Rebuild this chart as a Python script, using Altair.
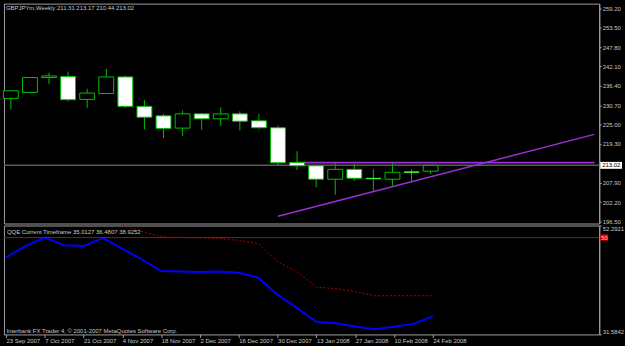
import json
import altair as alt
import pandas as pd

# ---------------- data ----------------
dates = ["23 Sep 2007", "30 Sep 2007", "7 Oct 2007", "14 Oct 2007", "21 Oct 2007",
         "28 Oct 2007", "4 Nov 2007", "11 Nov 2007", "18 Nov 2007", "25 Nov 2007",
         "2 Dec 2007", "9 Dec 2007", "16 Dec 2007", "23 Dec 2007", "30 Dec 2007",
         "6 Jan 2008", "13 Jan 2008", "20 Jan 2008", "27 Jan 2008", "3 Feb 2008",
         "10 Feb 2008", "17 Feb 2008", "24 Feb 2008"]
opens  = [232.70, 234.45, 238.85, 239.11, 232.41, 234.15, 239.02, 230.37, 227.58, 223.97,
          228.16, 226.70, 228.16, 226.12, 224.08, 213.89, 212.90, 208.94, 211.85, 209.10,
          208.94, 210.95, 211.31]
highs  = [235.00, 238.90, 240.27, 240.57, 235.53, 241.35, 239.40, 232.24, 228.16, 229.12,
          228.40, 230.08, 228.90, 228.16, 224.75, 217.18, 213.10, 213.60, 213.40, 211.85,
          213.60, 211.85, 213.17]
lows   = [229.41, 234.30, 236.90, 231.83, 229.91, 233.98, 229.91, 223.59, 221.05, 221.64,
          223.50, 224.55, 223.30, 223.79, 213.00, 211.65, 206.61, 204.37, 208.53, 205.53,
          207.07, 208.44, 210.44]
closes = [234.94, 238.82, 239.30, 232.32, 234.27, 239.02, 230.37, 227.17, 223.88, 228.16,
          226.70, 228.16, 226.00, 224.08, 213.77, 212.90, 208.94, 211.85, 209.23, 209.20,
          210.98, 211.10, 213.02]

qqe_blue = [46.21, 48.39, 49.98, 48.53, 48.39, 49.90, 47.90, 45.83, 43.63, 43.57,
            43.44, 43.57, 43.31, 42.37, 39.11, 36.61, 33.97, 33.71, 33.08, 32.57,
            33.03, 33.59, 35.0127]
qqe_red_start = 6
qqe_red = [52.29, 51.16, 50.13, 50.03, 49.94, 49.84, 49.47, 48.81, 45.42, 43.50,
           40.56, 40.30, 39.73, 38.92, 38.93, 38.93, 38.9252]
qqe_level = 50

trend_x = [14.0, 30.577]
trend_y = [198.05, 222.13]
hline_x = [15.0, 30.577]
hline_y = 213.83

price_ticks = [259.20, 253.50, 247.80, 242.10, 236.40, 230.70, 225.00, 219.30,
               207.90, 202.20, 196.50]
qqe_ticks = [52.2921, 31.5842]
date_ticks = list(range(0, 23, 2))

title_main = "GBPJPYm,Weekly  211.31 213.17 210.44 213.02"
title_qqe = "QQE Current Timeframe 35.0127 36.4807 38.9252"
copyright_txt = "Interbank FX Trader 4, \u00a9 2001-2007 MetaQuotes Software Corp."

# ---------------- styling ----------------
FONT = "Liberation Sans"
FS = 6
TXT = "#c8c8c8"
GREEN = "#00c000"
W = 601
H_MAIN = 222
H_LOW = 110
XDOM = [-0.102, 30.577]

df = pd.DataFrame({"i": list(range(len(dates))), "open": opens, "high": highs,
                   "low": lows, "close": closes, "blue": qqe_blue})
df_red = pd.DataFrame({"i": list(range(qqe_red_start, qqe_red_start + len(qqe_red))),
                       "red": qqe_red})

xs = alt.Scale(domain=XDOM, nice=False, zero=False)
ys_main = alt.Scale(domain=[195.92, 260.57], nice=False, zero=False)
ys_low = alt.Scale(domain=[qqe_ticks[1], qqe_ticks[0]], nice=False, zero=False)

axis_common = dict(labelFont=FONT, labelFontSize=FS, labelColor=TXT, tickColor="#a0a0a0",
                   domainColor="#a0a0a0", grid=False, title=None, labelOverlap=False)

ax_price = alt.Axis(orient="right", values=price_ticks, format=".2f", tickSize=2,
                    labelPadding=1, labelBound=False, **axis_common)
ax_qqe = alt.Axis(orient="right", values=qqe_ticks, format=".4f", tickSize=2,
                  labelPadding=1, labelFlush=True, **axis_common)
ax_date = alt.Axis(values=date_ticks,
                   labelExpr=f"{json.dumps(dates)}[round(datum.value)]",
                   labelAlign="left", labelBaseline="top", tickSize=3, labelPadding=0,
                   labelFlush=False, labelBound=False, domain=False, **axis_common)


def Y(field, axis):
    return alt.Y(field, title=None, axis=axis)


# ---------------- main panel ----------------
xm = alt.X("i:Q", scale=xs, axis=None)
base = alt.Chart(df).encode(x=xm)

wicks = base.mark_rule(color=GREEN, strokeWidth=1).encode(
    y=alt.Y("low:Q", scale=ys_main, title=None, axis=ax_price), y2="high:Q")
bodies = base.mark_bar(size=15, strokeWidth=1).encode(
    y=Y("open:Q", ax_price),
    y2="close:Q",
    fill=alt.condition("datum.close >= datum.open", alt.value("#000000"), alt.value("#ffffff")),
    stroke=alt.condition("abs(datum.close - datum.open) < 0.3", alt.value("#40ff40"), alt.value(GREEN)),
)

last_df = pd.DataFrame({"p": [closes[-1]]})
bid_line = alt.Chart(last_df).mark_rule(color="#5a5a5a", strokeWidth=1.5).encode(
    y=Y("p:Q", ax_price))

hl_df = pd.DataFrame({"x": [hline_x[0]], "x2": [hline_x[1]], "y": [hline_y]})
purple_h = alt.Chart(hl_df).mark_rule(color="#9b30d9", strokeWidth=1.6).encode(
    x=alt.X("x:Q", scale=xs, axis=None), x2="x2:Q", y=Y("y:Q", ax_price))

tr_df = pd.DataFrame({"x": trend_x, "y": trend_y})
trend = alt.Chart(tr_df).mark_line(color="#9b30d9", strokeWidth=1.4).encode(
    x=alt.X("x:Q", scale=xs, axis=None), y=Y("y:Q", ax_price))

bid_box = alt.Chart(last_df).mark_rect(color="#ffffff", yOffset=-3.5, y2Offset=3.5).encode(
    x=alt.value(W + 1), x2=alt.value(W + 23), y=Y("p:Q", ax_price), y2="p:Q")
bid_txt = alt.Chart(last_df).mark_text(align="left", baseline="middle", font=FONT,
                                       fontSize=FS, color="#000000").encode(
    x=alt.value(W + 3), y=Y("p:Q", ax_price), text=alt.Text("p:Q", format=".2f"))

main_title = alt.Chart(pd.DataFrame({"t": [title_main]})).mark_text(
    align="left", baseline="middle", font=FONT, fontSize=FS, color=TXT).encode(
    x=alt.value(2), y=alt.value(4.5), text="t:N")

main = alt.layer(wicks, bid_line, purple_h, trend, bodies, bid_box, bid_txt, main_title).properties(
    width=W, height=H_MAIN)

# ---------------- QQE panel ----------------
xl = lambda f: alt.X(f, scale=xs, title=None, axis=ax_date)

lvl_df = pd.DataFrame({"v": [qqe_level]})
level = alt.Chart(lvl_df).mark_rule(color="#c00000", strokeWidth=1).encode(
    y=alt.Y("v:Q", scale=ys_low, title=None, axis=ax_qqe))

red_line = alt.Chart(df_red).mark_line(color="#b00000", strokeWidth=1, strokeDash=[2, 2]).encode(
    x=xl("i:Q"), y=Y("red:Q", ax_qqe))

blue_line = alt.Chart(df).mark_line(color="#0000ff", strokeWidth=2).encode(
    x=xl("i:Q"), y=Y("blue:Q", ax_qqe))

lvl_box = alt.Chart(lvl_df).mark_rect(color="#e00000", yOffset=-3.2, y2Offset=3.2).encode(
    x=alt.value(W + 1), x2=alt.value(W + 9), y=Y("v:Q", ax_qqe), y2="v:Q")
lvl_txt = alt.Chart(lvl_df).mark_text(align="left", baseline="middle", font=FONT,
                                      fontSize=FS, color="#ffc0c0").encode(
    x=alt.value(W + 2), y=Y("v:Q", ax_qqe), text=alt.Text("v:Q", format="d"))

qqe_title = alt.Chart(pd.DataFrame({"t": [title_qqe]})).mark_text(
    align="left", baseline="middle", font=FONT, fontSize=FS, color=TXT).encode(
    x=alt.value(3), y=alt.value(6.3), text="t:N")
copy_txt = alt.Chart(pd.DataFrame({"t": [copyright_txt]})).mark_text(
    align="left", baseline="middle", font=FONT, fontSize=FS, color=TXT).encode(
    x=alt.value(2.5), y=alt.value(106.3), text="t:N")

low = alt.layer(red_line, blue_line, level, lvl_box, lvl_txt, qqe_title, copy_txt).properties(
    width=W, height=H_LOW)

chart = alt.vconcat(main, low, spacing=2, bounds="flush").properties(
    padding={"left": 1, "top": 1, "right": 0, "bottom": 0},
    background="#000000",
).configure_view(stroke="#a0a0a0", strokeWidth=1, fill="#000000")

chart.save("out.html", embed_options={"renderer": "svg", "actions": False})
